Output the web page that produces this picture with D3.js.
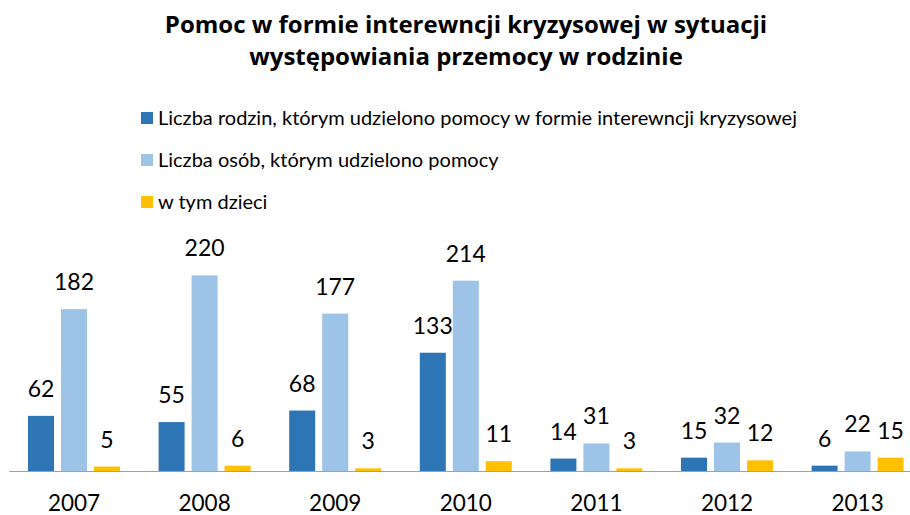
<!DOCTYPE html>
<html><head><meta charset="utf-8">
<script src="https://cdn.jsdelivr.net/npm/d3@7"></script>
<style>
html,body{margin:0;padding:0;background:#fff;}
svg{display:block;font-family:Lato,"Open Sans",sans-serif;}
</style></head>
<body>
<svg id="c" width="910" height="515"></svg>
<script>
const years = ["2007","2008","2009","2010","2011","2012","2013"];
const seriesNames = [
  "Liczba rodzin, którym udzielono pomocy w formie interewncji kryzysowej",
  "Liczba osób, którym udzielono pomocy",
  "w tym dzieci"
];
const families = [62, 55, 68, 133, 14, 15, 6];
const persons = [182, 220, 177, 214, 31, 32, 22];
const children = [5, 6, 3, 11, 3, 12, 15];
const colors = ["#2E75B6", "#9DC3E6", "#FFC000"];
const titleLines = ["Pomoc w formie interewncji kryzysowej w sytuacji", "występowiania przemocy w rodzinie"];

const seriesValues = [families, persons, children];
const svg = d3.select("#c");

// title
svg.append("g").selectAll("text").data(titleLines).join("text")
  .attr("x", 466).attr("y", (d,i) => 33 + i*32)
  .attr("text-anchor", "middle")
  .attr("font-family", "'Open Sans',Lato,sans-serif")
  .attr("font-weight", "bold").attr("font-size", 24).attr("fill", "#000")
  .text(d => d);

// legend
const leg = svg.append("g").selectAll("g").data(seriesNames).join("g")
  .attr("transform", (d,i) => `translate(141,${112 + i*42})`);
leg.append("rect").attr("width", 12).attr("height", 12).attr("fill", (d,i) => colors[i]);
leg.append("text").attr("x", 17).attr("y", 12.5).attr("font-size", 20).attr("fill", "#000").text(d => d);

// scales
const x0 = d3.scaleBand().domain(years).range([8.7, 922.9]).padding(0);
const x1 = d3.scaleBand().domain([0,1,2]).range([19.3, 111.3]).paddingInner(0.212).paddingOuter(0);
const y = d3.scaleLinear().domain([0, 250]).range([471, 248.7]);

const data = [];
years.forEach((yr, i) => seriesValues.forEach((arr, s) => data.push({yr, s, v: arr[i]})));

svg.append("g").selectAll("rect").data(data).join("rect")
  .attr("x", d => x0(d.yr) + x1(d.s))
  .attr("width", x1.bandwidth())
  .attr("y", d => y(d.v))
  .attr("height", d => y(0) - y(d.v))
  .attr("fill", d => colors[d.s]);

svg.append("g").selectAll("text").data(data).join("text")
  .attr("x", d => x0(d.yr) + x1(d.s) + x1.bandwidth()/2)
  .attr("y", d => y(d.v) - 19)
  .attr("text-anchor", "middle").attr("font-size", 23).attr("fill", "#000")
  .text(d => d.v);

// axis
const ax = svg.append("g").attr("transform", `translate(0,${y(0)})`)
  .call(d3.axisBottom(x0).tickSize(0).tickPadding(24));
ax.select(".domain").attr("stroke", "#A0A0A0").attr("stroke-width", 1.2);
ax.selectAll("text").attr("font-size", 22.5).attr("fill", "#000").attr("font-family", "Lato,'Open Sans',sans-serif");
</script>
</body></html>
